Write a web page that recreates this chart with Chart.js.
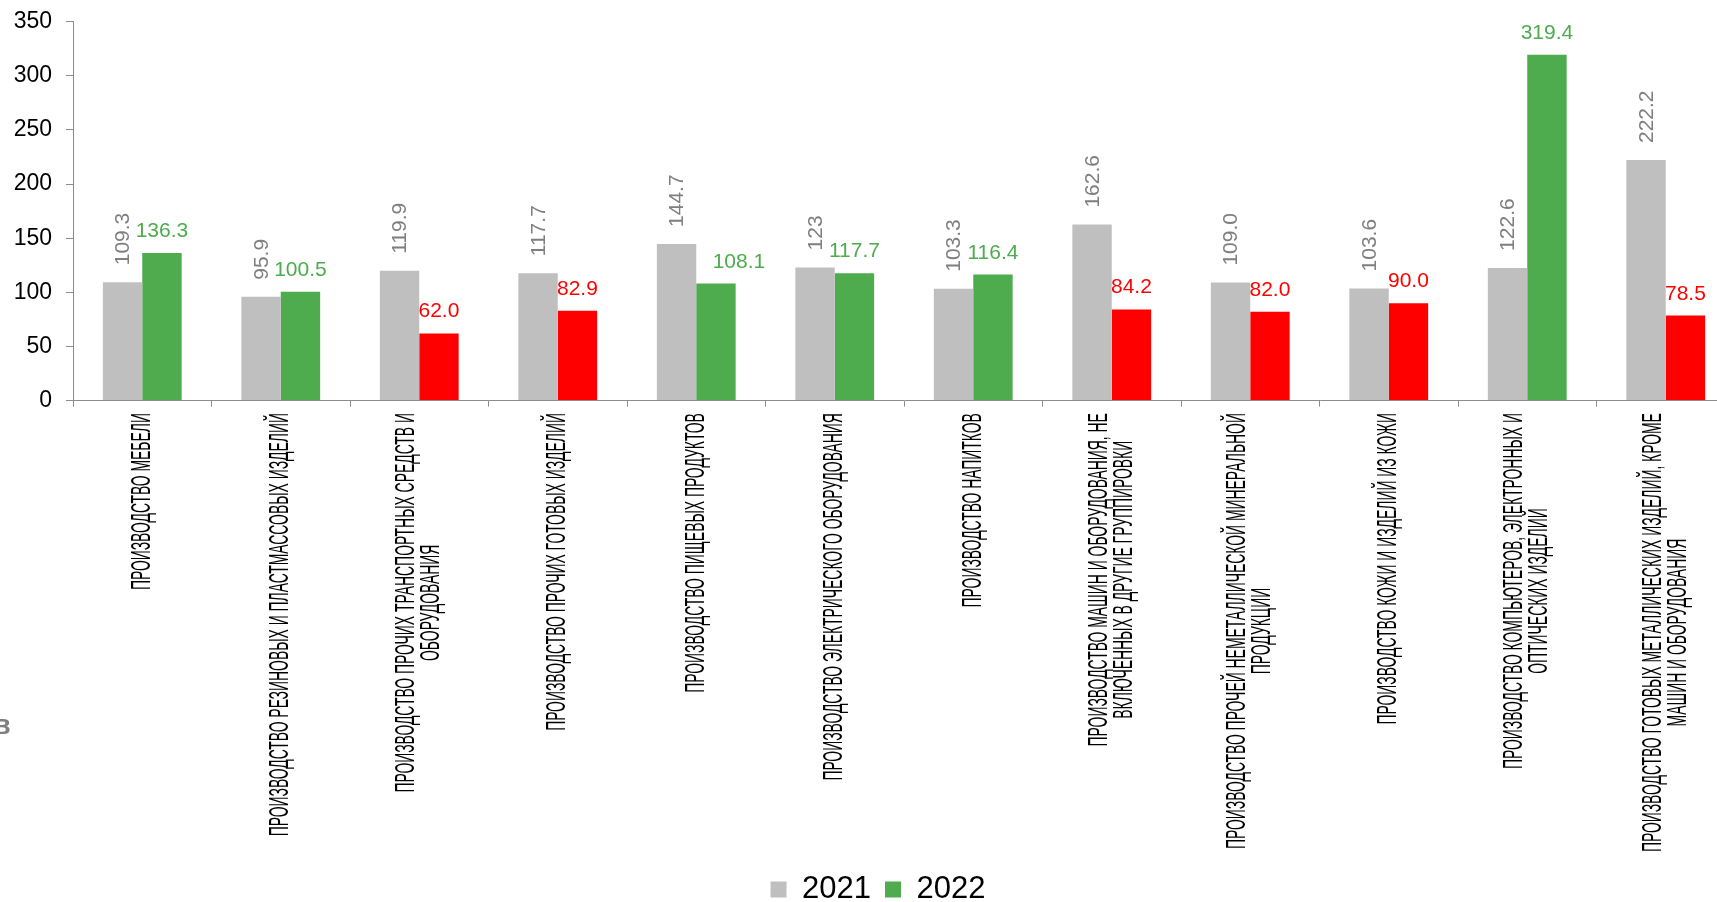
<!DOCTYPE html>
<html>
<head>
<meta charset="UTF-8">
<title>Индексы производства</title>
<style>
    html, body {
        margin: 0;
        padding: 0;
        background: #fff;
        overflow: hidden;
    }

    .chart-box {
        position: relative;
        width: 1736px;
        height: 915px;
    }

    .stray {
        position: absolute;
        left: -6px;
        top: 712px;
        font: bold 27px "Liberation Sans", Arial, sans-serif;
        line-height: 1;
        color: #808080;
    }
</style>
</head>
<body>
<div class="chart-box"><canvas id="prodChart"></canvas></div>
<div class="stray">в</div>

<script src="https://cdn.jsdelivr.net/npm/chart.js"></script>
<script>
    // categories, one entry per line of the rotated axis label
    const categories = [
        ["ПРОИЗВОДСТВО МЕБЕЛИ"],
        ["ПРОИЗВОДСТВО РЕЗИНОВЫХ И ПЛАСТМАССОВЫХ ИЗДЕЛИЙ"],
        ["ПРОИЗВОДСТВО ПРОЧИХ ТРАНСПОРТНЫХ СРЕДСТВ И", "ОБОРУДОВАНИЯ"],
        ["ПРОИЗВОДСТВО ПРОЧИХ ГОТОВЫХ ИЗДЕЛИЙ"],
        ["ПРОИЗВОДСТВО ПИЩЕВЫХ ПРОДУКТОВ"],
        ["ПРОИЗВОДСТВО ЭЛЕКТРИЧЕСКОГО ОБОРУДОВАНИЯ"],
        ["ПРОИЗВОДСТВО НАПИТКОВ"],
        ["ПРОИЗВОДСТВО МАШИН И ОБОРУДОВАНИЯ, НЕ", "ВКЛЮЧЕННЫХ В ДРУГИЕ ГРУППИРОВКИ"],
        ["ПРОИЗВОДСТВО ПРОЧЕЙ НЕМЕТАЛЛИЧЕСКОЙ МИНЕРАЛЬНОЙ", "ПРОДУКЦИИ"],
        ["ПРОИЗВОДСТВО КОЖИ И ИЗДЕЛИЙ ИЗ КОЖИ"],
        ["ПРОИЗВОДСТВО КОМПЬЮТЕРОВ, ЭЛЕКТРОННЫХ И", "ОПТИЧЕСКИХ ИЗДЕЛИЙ"],
        ["ПРОИЗВОДСТВО ГОТОВЫХ МЕТАЛЛИЧЕСКИХ ИЗДЕЛИЙ, КРОМЕ", "МАШИН И ОБОРУДОВАНИЯ"]
    ];

    const values2021 = [109.3, 95.9, 119.9, 117.7, 144.7, 123, 103.3, 162.6, 109.0, 103.6, 122.6, 222.2];
    const values2022 = [136.3, 100.5, 62.0, 82.9, 108.1, 117.7, 116.4, 84.2, 82.0, 90.0, 319.4, 78.5];

    const labels2021 = ["109.3", "95.9", "119.9", "117.7", "144.7", "123", "103.3", "162.6", "109.0", "103.6", "122.6", "222.2"];
    const labels2022 = ["136.3", "100.5", "62.0", "82.9", "108.1", "117.7", "116.4", "84.2", "82.0", "90.0", "319.4", "78.5"];

    const yMin = 0;
    const yMax = 350;
    const yStep = 50;

    const FONT = '"Liberation Sans", Arial, sans-serif';
    const GRAY = '#bfbfbf';
    const GREEN = '#4eab4e';
    const RED = '#ff0000';
    const AXIS = '#8c8c8c';

    const valueLabels = {
        id: 'valueLabels',
        afterDatasetsDraw(chart) {
            const ctx = chart.ctx;
            ctx.save();
            ctx.font = '21px ' + FONT;

            // 2021: vertical grey labels
            chart.getDatasetMeta(0).data.forEach((bar, i) => {
                ctx.save();
                ctx.translate(bar.x, bar.y - 17);
                ctx.rotate(-Math.PI / 2);
                ctx.textAlign = 'left';
                ctx.textBaseline = 'middle';
                ctx.fillStyle = '#7f7f7f';
                ctx.fillText(labels2021[i], 0, 1);
                ctx.restore();
            });

            // 2022: horizontal, coloured like the bar
            const nudge = { 4: 23 };
            chart.getDatasetMeta(1).data.forEach((bar, i) => {
                ctx.textAlign = 'center';
                ctx.textBaseline = 'alphabetic';
                ctx.fillStyle = values2022[i] < 100 ? RED : GREEN;
                ctx.fillText(labels2022[i], bar.x + (nudge[i] || 0), bar.y - 16);
            });
            ctx.restore();
        }
    };

    // squeezed, rotated category names under the axis
    const categoryLabels = {
        id: 'categoryLabels',
        afterLayout(chart) {
            // legend sits a little right of the canvas centre
            chart.legend.left += 10;
            chart.legend.right += 10;
        },
        afterDraw(chart) {
            const ctx = chart.ctx;
            const xs = chart.scales.x;
            ctx.save();
            ctx.font = '28px ' + FONT;
            ctx.fillStyle = '#000';
            ctx.textAlign = 'center';
            ctx.textBaseline = 'middle';
            categories.forEach((lines, i) => {
                const cx = xs.getPixelForValue(i);
                const widest = Math.max(...lines.map(l => ctx.measureText(l).width));
                ctx.save();
                ctx.translate(cx, xs.top + 12.5);
                ctx.rotate(-Math.PI / 2);
                ctx.scale(0.497, 1);
                lines.forEach((line, j) => {
                    ctx.fillText(line, -widest / 2, (j - (lines.length - 1) / 2) * 25);
                });
                ctx.restore();
            });
            ctx.restore();
        }
    };

    new Chart(document.getElementById('prodChart'), {
        type: 'bar',
        data: {
            labels: categories.map(l => l.join(' ')),
            datasets: [
                {
                    label: '2021',
                    data: values2021,
                    backgroundColor: GRAY,
                    categoryPercentage: 0.569,
                    barPercentage: 1
                },
                {
                    label: '2022',
                    data: values2022,
                    backgroundColor: (c) => (c.raw !== undefined && c.raw < 100) ? RED : GREEN,
                    categoryPercentage: 0.569,
                    barPercentage: 1
                }
            ]
        },
        options: {
            responsive: true,
            maintainAspectRatio: false,
            animation: false,
            layout: {
                padding: { left: 1, right: 1, top: 21.7, bottom: 0 }
            },
            scales: {
                x: {
                    grid: {
                        display: true,
                        drawOnChartArea: false,
                        tickLength: 6,
                        color: AXIS,
                        offset: true
                    },
                    border: { color: AXIS },
                    ticks: { display: false },
                    afterFit: (s) => { s.height = 459.4; }
                },
                y: {
                    min: yMin,
                    max: yMax,
                    ticks: {
                        stepSize: yStep,
                        padding: 14,
                        color: '#000',
                        font: { size: 23, family: FONT }
                    },
                    grid: {
                        drawOnChartArea: false,
                        tickLength: 7,
                        color: AXIS
                    },
                    border: { color: AXIS },
                    afterFit: (s) => {
                        s.width = 72;
                        s.paddingTop = 0;
                    }
                }
            },
            plugins: {
                legend: {
                    position: 'bottom',
                    labels: {
                        boxWidth: 16,
                        boxHeight: 16,
                        padding: 14,
                        color: '#000',
                        font: { size: 31, family: FONT }
                    }
                },
                tooltip: { enabled: false }
            }
        },
        plugins: [valueLabels, categoryLabels]
    });
</script>
</body>
</html>
